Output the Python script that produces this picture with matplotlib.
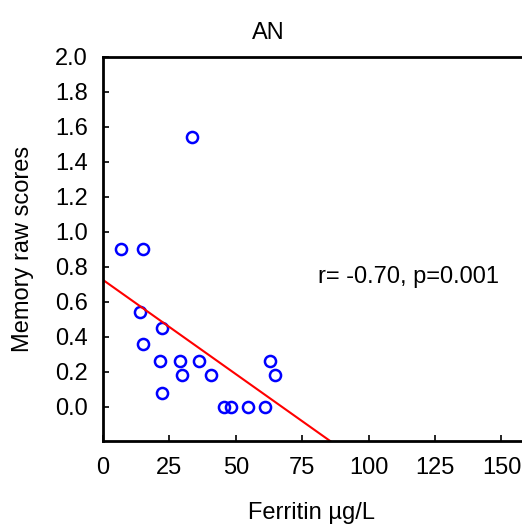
import numpy as np
import matplotlib
matplotlib.use("Agg")
import matplotlib.pyplot as plt

plt.rcParams['font.family'] = ['Liberation Sans', 'DejaVu Sans']

# ferritin (ug/L) vs memory raw scores, group AN
ferritin = [6.8, 15.0, 14.1, 22.2, 15.0, 21.5, 28.8, 36.1, 29.8, 40.7,
            22.2, 45.4, 48.3, 54.4, 60.8, 62.8, 64.6, 33.4]
memory = [0.90, 0.90, 0.54, 0.45, 0.36, 0.26, 0.26, 0.26, 0.18, 0.18,
          0.08, 0.00, 0.00, 0.00, 0.00, 0.26, 0.18, 1.54]
xticks = [0, 25, 50, 75, 100, 125, 150]
yticks = [0.0, 0.2, 0.4, 0.6, 0.8, 1.0, 1.2, 1.4, 1.6, 1.8, 2.0]
stats_text = "r= -0.70, p=0.001"

fig = plt.figure(figsize=(5.22, 5.29), dpi=100)
ax = fig.add_axes([103 / 522, 1 - 440.7 / 529, 425 / 522, 384 / 529])

ax.plot(ferritin, memory, 'o', mfc='none', mec='#0000ff', ms=8, mew=1.8)

# least squares fit line
slope, icpt = np.polyfit(ferritin, memory, 1)
xl = np.array([0, 100])
ax.plot(xl, icpt + slope * xl, color='#ff0000', lw=1.5)

ax.set_xlim(0, 160)
ax.set_ylim(-0.194, 2.0)
ax.set_xticks(xticks)
ax.set_yticks(yticks)
ax.set_yticklabels([f"{v:.1f}" for v in yticks])
ax.tick_params(direction='in', length=4, width=1.2, labelsize=17)
ax.tick_params(axis='x', pad=11.5)
ax.tick_params(axis='y', pad=11)
for s in ax.spines.values():
    s.set_linewidth(2)

ax.set_ylabel("Memory raw scores", fontsize=17, labelpad=15)
fig.text(318 / 522, 1 - 277 / 529, stats_text, fontsize=17, va='center', ha='left')
fig.text(312 / 522, 1 - 513 / 529, "Ferritin µg/L", fontsize=17, ha='center', va='center')
fig.text(268 / 522, 1 - 33 / 529, "AN", fontsize=17, ha='center', va='center')

fig.savefig("out.png", dpi=100)
